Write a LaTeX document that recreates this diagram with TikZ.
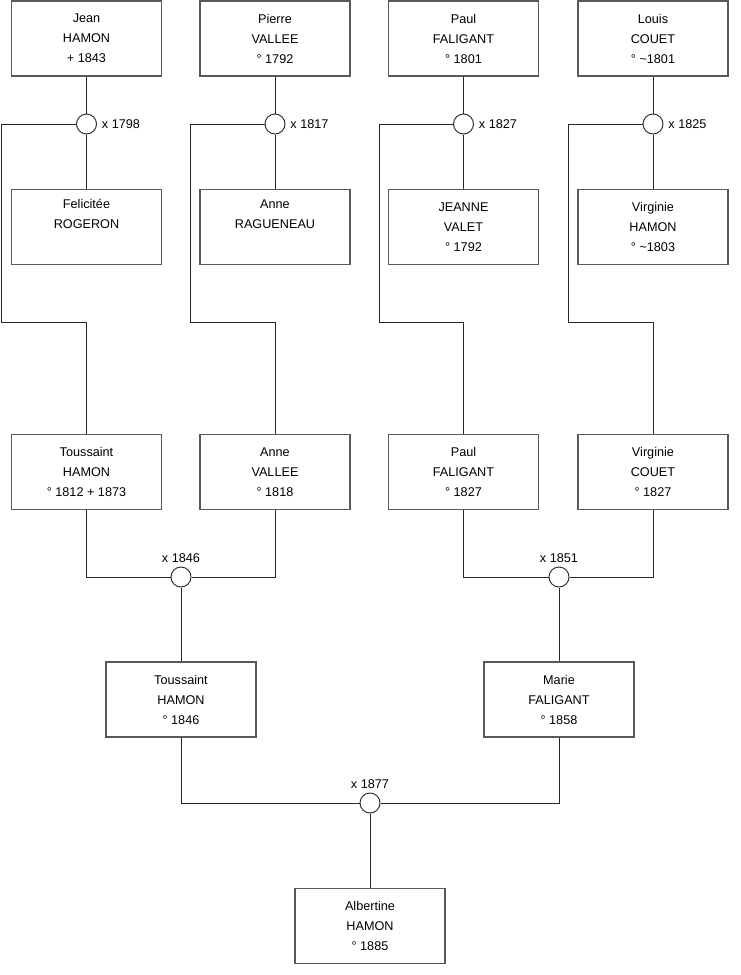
\documentclass[tikz,border=0pt]{standalone}
\usepackage{fontspec}
\setmainfont{Liberation Sans}
\begin{document}
\begin{tikzpicture}[x=0.75pt,y=-0.75pt,
  person/.style={draw=black!65, line width=0.8pt, fill=white, minimum width=112.5pt, minimum height=56.25pt, inner sep=0pt, align=center, font=\fontsize{9.5}{15}\selectfont},
  marriage/.style={draw=black!80, line width=0.75pt, fill=white, circle, minimum size=15pt, inner sep=0pt},
  mlabel/.style={font=\fontsize{9.5}{11}\selectfont, inner sep=1pt},
  link/.style={draw=black!85, line width=0.75pt}]
\useasboundingbox (0,0) rectangle (740,975);
% row 1
\node[person] (p1) at (86.5,38.5) {Jean\\HAMON\\+ 1843};
\node[person] (p2) at (275,38.5) {Pierre\\VALLEE\\° 1792};
\node[person] (p3) at (463.5,38.5) {Paul\\FALIGANT\\° 1801};
\node[person] (p4) at (653,38.5) {Louis\\COUET\\° \textasciitilde1801};
% marriages row 1
\node[marriage] (c1) at (86.5,124) {};
\node[marriage] (c2) at (275,124) {};
\node[marriage] (c3) at (463.5,124) {};
\node[marriage] (c4) at (653,124) {};
\node[mlabel, anchor=west] (l1) at ([xshift=2.5pt]c1.east) {x 1798};
\node[mlabel, anchor=west] (l2) at ([xshift=2.5pt]c2.east) {x 1817};
\node[mlabel, anchor=west] (l3) at ([xshift=2.5pt]c3.east) {x 1827};
\node[mlabel, anchor=west] (l4) at ([xshift=2.5pt]c4.east) {x 1825};
% row 2
\node[person] (s1) at (86.5,227) {Felicitée\\ROGERON\\\strut};
\node[person] (s2) at (275,227) {Anne\\RAGUENEAU\\\strut};
\node[person] (s3) at (463.5,227) {JEANNE\\VALET\\° 1792};
\node[person] (s4) at (653,227) {Virginie\\HAMON\\° \textasciitilde1803};
% row 3
\node[person] (t1) at (86.5,472) {Toussaint\\HAMON\\° 1812 + 1873};
\node[person] (t2) at (275,472) {Anne\\VALLEE\\° 1818};
\node[person] (t3) at (463.5,472) {Paul\\FALIGANT\\° 1827};
\node[person] (t4) at (653,472) {Virginie\\COUET\\° 1827};
% marriages row 3
\node[marriage] (m1) at (181,577) {};
\node[marriage] (m2) at (559,577) {};
\node[mlabel, anchor=south] (ml1) at ([yshift=1.5pt]m1.north) {x 1846};
\node[mlabel, anchor=south] (ml2) at ([yshift=1.5pt]m2.north) {x 1851};
% row 4
\node[person] (u1) at (181,699.5) {Toussaint\\HAMON\\° 1846};
\node[person] (u2) at (559,699.5) {Marie\\FALIGANT\\° 1858};
\node[marriage] (m3) at (370,803) {};
\node[mlabel, anchor=south] (ml3) at ([yshift=1.5pt]m3.north) {x 1877};
% row 5
\node[person] (v1) at (370,926) {Albertine\\HAMON\\° 1885};
% turning points
\coordinate (k1) at (1,322);
\coordinate (k2) at (190,322);
\coordinate (k3) at (379,322);
\coordinate (k4) at (568,322);
% connectors
\foreach \i in {1,2,3,4}{
  \path[link] (p\i.south) -- (c\i.north);
  \path[link] (c\i.south) -- (s\i.north);
  \path[link] (c\i.west) -| (k\i) -| (t\i.north);
}
\path[link] (t1.south) |- (m1.west);
\path[link] (t2.south) |- (m1.east);
\path[link] (m1.south) -- (u1.north);
\path[link] (t3.south) |- (m2.west);
\path[link] (t4.south) |- (m2.east);
\path[link] (m2.south) -- (u2.north);
\path[link] (u1.south) |- (m3.west);
\path[link] (u2.south) |- (m3.east);
\path[link] (m3.south) -- (v1.north);
\end{tikzpicture}
\end{document}
